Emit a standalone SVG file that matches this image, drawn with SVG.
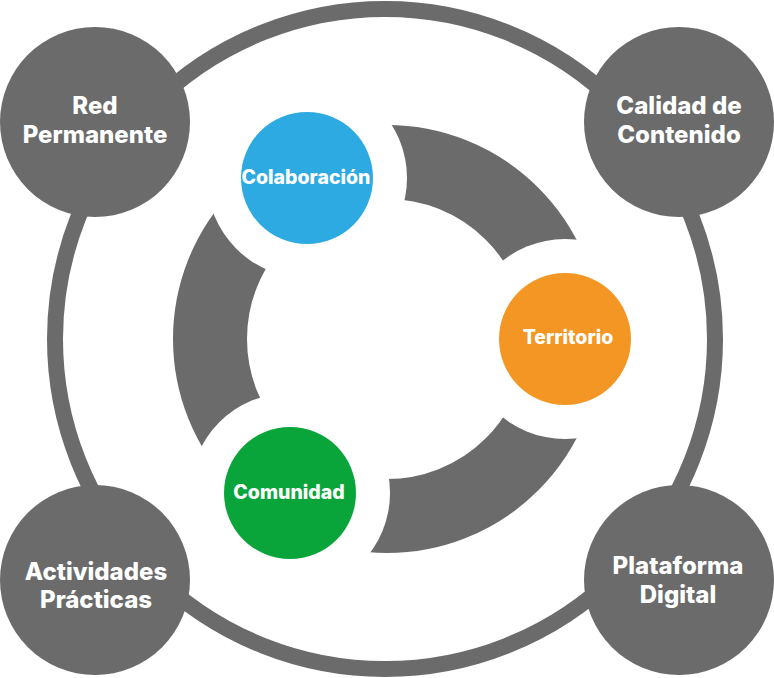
<svg xmlns="http://www.w3.org/2000/svg" width="774" height="678" viewBox="0 0 774 678">
  <style>
    .grey { fill: #6b6b6b; }
    .ring { fill: none; stroke: #6b6b6b; }
    .halo { fill: #ffffff; }
    .lbl { font-family: "Inter", "Liberation Sans", "DejaVu Sans", sans-serif; font-weight: 800; fill: #ffffff; text-anchor: middle; }
    .big { font-size: 24px; }
    .small { font-size: 19.5px; }
  </style>
  <rect width="774" height="678" fill="#ffffff"/>

  <!-- connectors: outer loop and inner cycle band -->
  <g id="connectors">
    <circle class="ring" cx="385" cy="339" r="330" stroke-width="16"/>
    <circle class="ring" cx="387" cy="339" r="177" stroke-width="74"/>
    <!-- white gaps that split the band into three arcs -->
    <circle class="halo" cx="307" cy="178" r="100"/>
    <circle class="halo" cx="565" cy="339" r="100"/>
    <circle class="halo" cx="290" cy="493" r="100"/>
  </g>

  <!-- outer nodes -->
  <g id="red-permanente">
    <circle class="grey" cx="95" cy="122" r="95"/>
    <text class="lbl big" x="95" y="114">Red</text>
    <text class="lbl big" x="95" y="143">Permanente</text>
  </g>
  <g id="calidad-contenido">
    <circle class="grey" cx="679" cy="122" r="95"/>
    <text class="lbl big" x="679" y="114">Calidad de</text>
    <text class="lbl big" x="679" y="143">Contenido</text>
  </g>
  <g id="actividades-practicas">
    <circle class="grey" cx="95" cy="580" r="95"/>
    <text class="lbl big" x="96" y="580">Actividades</text>
    <text class="lbl big" x="96" y="608">Prácticas</text>
  </g>
  <g id="plataforma-digital">
    <circle class="grey" cx="679" cy="580" r="95"/>
    <text class="lbl big" x="678" y="574">Plataforma</text>
    <text class="lbl big" x="678" y="603">Digital</text>
  </g>

  <!-- inner nodes -->
  <g id="colaboracion">
    <circle cx="307" cy="178" r="66" fill="#2daae1"/>
    <text class="lbl small" x="306" y="183.5">Colaboración</text>
  </g>
  <g id="territorio">
    <circle cx="565" cy="339" r="66" fill="#f39623"/>
    <text class="lbl small" x="568" y="343.5">Territorio</text>
  </g>
  <g id="comunidad">
    <circle cx="290" cy="493" r="66" fill="#0aa53a"/>
    <text class="lbl small" x="289" y="499">Comunidad</text>
  </g>
</svg>
